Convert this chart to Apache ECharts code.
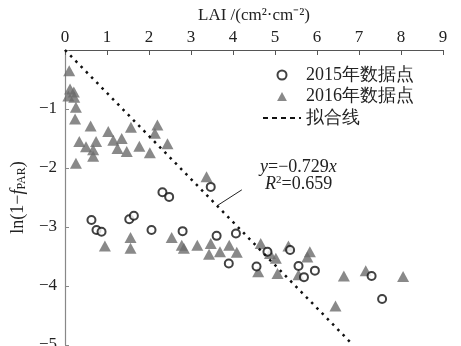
<!DOCTYPE html>
<html>
<head>
<meta charset="utf-8">
<script src="https://cdn.jsdelivr.net/npm/echarts@6/dist/echarts.min.js"></script>
<style>html,body{margin:0;padding:0;background:#fff}#c{width:461px;height:346px}</style>
</head>
<body>
<div id="c"></div>
<script>
// ---- data ----
var xTicks = [0,1,2,3,4,5,6,7,8,9];
var yTicks = [0,-1,-2,-3,-4,-5];
var x2015 = [0.63,0.75,0.87,1.53,1.64,2.06,2.32,2.48,2.80,3.47,3.61,3.90,4.07,4.56,4.82,5.36,5.56,5.69,5.95,7.30,7.55];
var y2015 = [-2.88,-3.05,-3.08,-2.87,-2.81,-3.05,-2.41,-2.49,-3.07,-2.32,-3.15,-3.62,-3.11,-3.67,-3.42,-3.39,-3.66,-3.85,-3.74,-3.83,-4.22];
var x2016 = [0.10,0.12,0.21,0.08,0.22,0.26,0.24,0.61,1.03,0.34,0.50,0.74,0.67,0.67,1.15,1.35,1.25,1.47,1.57,1.77,2.02,2.20,2.14,2.44,0.26,3.37,
             0.95,1.56,1.56,2.54,2.78,2.83,3.15,3.47,3.43,3.69,3.91,4.09,4.66,4.88,5.02,4.60,5.06,5.32,5.83,5.77,5.56,6.64,7.16,8.05,6.44];
var y2016 = [-0.35,-0.66,-0.71,-0.78,-0.80,-0.97,-1.17,-1.29,-1.38,-1.55,-1.64,-1.55,-1.69,-1.80,-1.53,-1.50,-1.67,-1.72,-1.31,-1.63,-1.74,-1.27,-1.41,-1.59,-1.92,-2.15,
             -3.32,-3.18,-3.36,-3.18,-3.31,-3.36,-3.31,-3.28,-3.46,-3.42,-3.31,-3.43,-3.28,-3.45,-3.53,-3.76,-3.79,-3.32,-3.42,-3.51,-3.81,-3.83,-3.74,-3.84,-4.34];
var fitSlope = -0.729;
var fitX = [0, 6.86];
var seriesNames = ['2015年数据点','2016年数据点','拟合线'];
var pointerFrom = [3.62, -2.64];
var pointerTo = [4.21, -2.37];

function zip(xs, ys){ return xs.map(function(v,i){ return [v, ys[i]]; }); }
var fitData = fitX.map(function(x){ return [x, fitSlope * x]; });

var serif = 'Liberation Serif';
var chart = echarts.init(document.getElementById('c'));
chart.setOption({
  animation: false,
  backgroundColor: '#fff',
  grid: { left: 65, right: 18, top: 50, bottom: 1, containLabel: false, outerBoundsMode: 'none' },
  xAxis: {
    type: 'value', position: 'top', min: xTicks[0], max: xTicks[xTicks.length-1], interval: 1,
    name: 'LAI /(cm²·cm⁻²)', nameLocation: 'middle', nameGap: 25,
    nameTextStyle: { fontFamily: serif, fontSize: 17, color: '#222' },
    axisLine: { lineStyle: { color: '#555', width: 1.2 } },
    axisTick: { inside: true, length: 5, lineStyle: { color: '#555' } },
    axisLabel: { fontFamily: serif, fontSize: 17, color: '#222', margin: 4 },
    splitLine: { show: false }
  },
  yAxis: {
    type: 'value', min: yTicks[yTicks.length-1], max: yTicks[0], interval: 1,
    name: 'ln(1−{i|f}{sub|PAR})', nameLocation: 'middle', nameGap: 34, nameRotate: 90,
    nameTextStyle: { fontFamily: serif, fontSize: 18, color: '#222',
      rich: { i: { fontFamily: serif, fontSize: 18, fontStyle: 'italic', color: '#222' },
              sub: { fontFamily: serif, fontSize: 12, color: '#222', verticalAlign: 'bottom', padding: [7,0,0,0] } } },
    axisLine: { lineStyle: { color: '#888', width: 1.2 } },
    axisTick: { inside: true, length: 4, lineStyle: { color: '#888' } },
    axisLabel: { fontFamily: serif, fontSize: 17, color: '#222', margin: 8,
      formatter: function(v){ return v === 0 ? '' : String(v).replace('-', '−'); } },
    splitLine: { show: false }
  },
  legend: {
    orient: 'vertical', left: 257, top: 61, itemWidth: 38, itemHeight: 9, itemGap: 3.5,
    symbolKeepAspect: true,
    textStyle: { fontFamily: serif, fontSize: 18, color: '#222' },
    data: [
      { name: seriesNames[0] },
      { name: seriesNames[1], icon: 'path://M6,0L12,11L0,11Z' },
      { name: seriesNames[2], lineStyle: { type: [5,4], width: 2, color: '#111' },
        itemStyle: { color: 'rgba(0,0,0,0)', borderWidth: 0, opacity: 0 } }
    ]
  },
  series: [
    { name: seriesNames[0], type: 'scatter', symbol: 'emptyCircle', symbolSize: 8,
      itemStyle: { color: '#111', borderColor: '#111', borderWidth: 2 },
      data: zip(x2015, y2015), z: 4 },
    { name: seriesNames[1], type: 'scatter', symbol: 'triangle', symbolSize: [12,11],
      itemStyle: { color: '#6b6b6b' },
      data: zip(x2016, y2016), z: 3 },
    { name: seriesNames[2], type: 'line', symbol: 'none', data: fitData, z: 5,
      lineStyle: { color: '#111', width: 2.5, type: [2.5,5] },
      markLine: { silent: true, symbol: 'none', label: { show: false },
        lineStyle: { color: '#222', width: 1, type: 'solid' },
        data: [[{ coord: pointerFrom }, { coord: pointerTo }]] } }
  ],
  graphic: [
    { type: 'text', left: 260, top: 158, style: {
        text: '{i|y}=−0.729{i|x}', fontFamily: serif, fontSize: 18, fill: '#222',
        rich: { i: { fontFamily: serif, fontSize: 18, fontStyle: 'italic', fill: '#222' } } } },
    { type: 'text', left: 265, top: 175, style: {
        text: '{i|R}{sup|2}=0.659', fontFamily: serif, fontSize: 18, fill: '#222',
        rich: { i: { fontFamily: serif, fontSize: 18, fontStyle: 'italic', fill: '#222' },
                sup: { fontFamily: serif, fontSize: 11, fill: '#222', verticalAlign: 'top', padding: [0,0,7,0] } } } }
  ]
});
</script>
</body>
</html>
